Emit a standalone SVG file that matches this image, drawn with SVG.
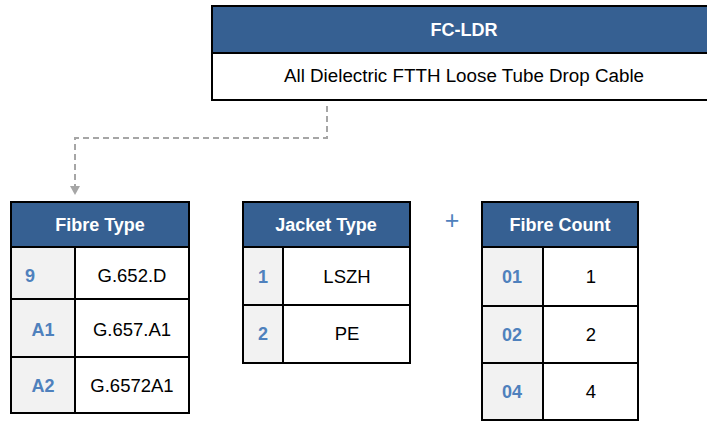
<svg xmlns="http://www.w3.org/2000/svg" width="707" height="421" viewBox="0 0 707 421">
<defs>
<style>
.hdr{fill:#366092;stroke:#000;stroke-width:2}
.cell{fill:#fff;stroke:#000;stroke-width:2}
.key{fill:#F2F2F2;stroke:#000;stroke-width:2}
.ht{font-family:"Liberation Sans",Arial,sans-serif;font-weight:bold;font-size:18px;fill:#fff;text-anchor:middle}
.kt{font-family:"Liberation Sans",Arial,sans-serif;font-weight:bold;font-size:18px;fill:#4F81BD;text-anchor:middle}
.vt{font-family:"Liberation Sans",Arial,sans-serif;font-size:18.5px;fill:#000;text-anchor:middle}
.conn{fill:none;stroke:#A6A6A6;stroke-width:2;stroke-dasharray:6,4}
</style>
</defs>
<rect width="707" height="421" fill="#fff"/>
<g id="connectors">
<path class="conn" d="M327,106 V138 H75 V186"/>
<path d="M70,186 L80,186 L75,195 Z" fill="#A6A6A6"/>
</g>
<g id="fc-ldr">
<rect class="cell" x="212" y="6" width="510" height="94" stroke-width="2.5"/>
<rect class="hdr" x="212" y="6" width="510" height="47" stroke-width="2.5"/>
<text class="ht" x="464" y="36">FC-LDR</text>
<text class="vt" x="464" y="82" style="font-size:18.8px">All Dielectric FTTH Loose Tube Drop Cable</text>
</g>
<g id="fibre-type">
<rect class="hdr" x="11" y="202" width="178" height="45"/>
<text class="ht" x="100" y="231">Fibre Type</text>
<rect class="key" x="11" y="247" width="64" height="52"/>
<rect class="cell" x="75" y="247" width="114" height="52"/>
<text class="kt" x="25" y="282" style="text-anchor:start">9</text>
<text class="vt" x="132" y="282">G.652.D</text>
<rect class="key" x="11" y="299" width="64" height="58"/>
<rect class="cell" x="75" y="299" width="114" height="58"/>
<text class="kt" x="43" y="336">A1</text>
<text class="vt" x="132" y="336">G.657.A1</text>
<rect class="key" x="11" y="357" width="64" height="56"/>
<rect class="cell" x="75" y="357" width="114" height="56"/>
<text class="kt" x="43" y="392">A2</text>
<text class="vt" x="132" y="392">G.6572A1</text>
</g>
<g id="jacket-type">
<rect class="hdr" x="243" y="202" width="167" height="45"/>
<text class="ht" x="326" y="231">Jacket Type</text>
<rect class="key" x="243" y="247" width="40" height="58"/>
<rect class="cell" x="283" y="247" width="127" height="58"/>
<text class="kt" x="263" y="283">1</text>
<text class="vt" x="347" y="283">LSZH</text>
<rect class="key" x="243" y="305" width="40" height="58"/>
<rect class="cell" x="283" y="305" width="127" height="58"/>
<text class="kt" x="263" y="340">2</text>
<text class="vt" x="347" y="340">PE</text>
</g>
<g id="plus">
<text x="452" y="229" style="font-family:'Liberation Sans',Arial,sans-serif;font-size:25px;fill:#4F81BD;text-anchor:middle">+</text>
</g>
<g id="fibre-count">
<rect class="hdr" x="482" y="202" width="156" height="45"/>
<text class="ht" x="560" y="231">Fibre Count</text>
<rect class="key" x="482" y="247" width="61" height="59"/>
<rect class="cell" x="543" y="247" width="95" height="59"/>
<text class="kt" x="512" y="283">01</text>
<text class="vt" x="591" y="283">1</text>
<rect class="key" x="482" y="306" width="61" height="57"/>
<rect class="cell" x="543" y="306" width="95" height="57"/>
<text class="kt" x="512" y="341">02</text>
<text class="vt" x="591" y="341">2</text>
<rect class="key" x="482" y="363" width="61" height="57"/>
<rect class="cell" x="543" y="363" width="95" height="57"/>
<text class="kt" x="512" y="398">04</text>
<text class="vt" x="591" y="398">4</text>
</g>
</svg>
